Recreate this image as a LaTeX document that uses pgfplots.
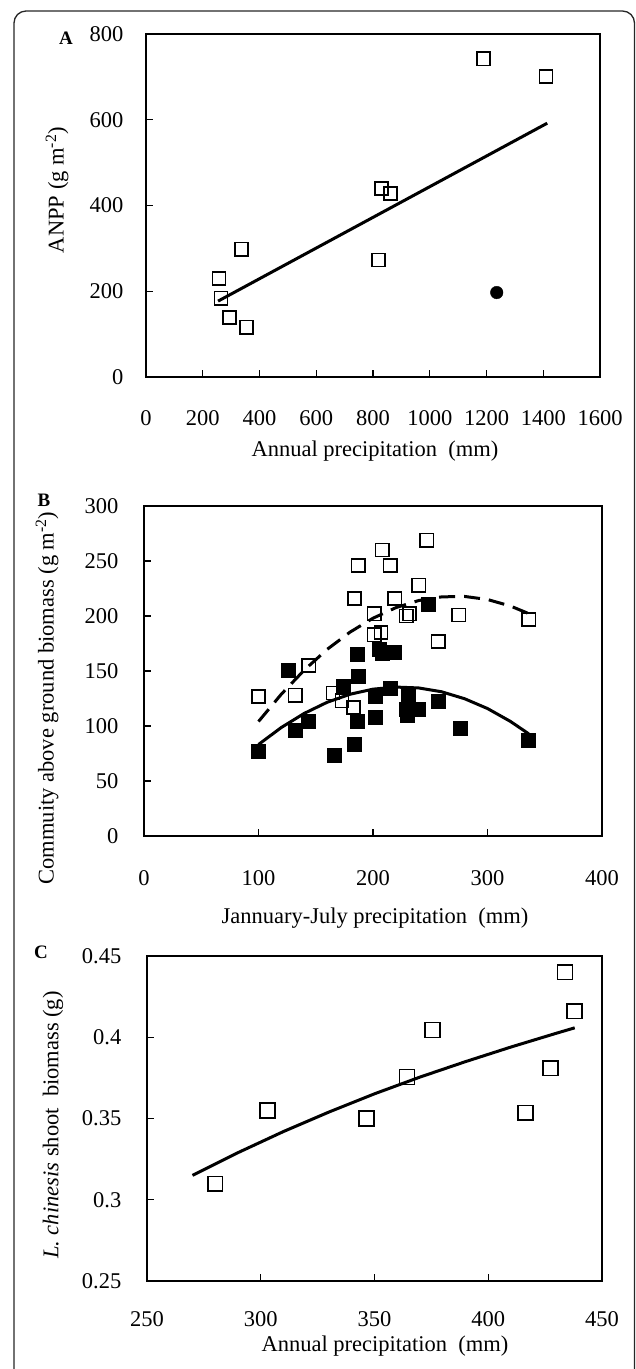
\documentclass[border=0pt]{standalone}
\usepackage{fontspec}
\setmainfont{Liberation Serif}
\usepackage{pgfplots}
\pgfplotsset{compat=1.18}
\newcommand{\tfont}{\fontsize{22.5}{26}\selectfont}
\begin{document}
\tfont
\begin{tikzpicture}[x=1pt,y=1pt]
\pgfplotsset{
  myax/.style={
    scale only axis,
    anchor=south west,
    axis line style={line width=1.5pt},
    every tick/.style={line width=1.3pt, black},
    tick align=inside,
    major tick length=7pt,
    xtick pos=lower, ytick pos=left,
    /pgf/number format/assume math mode=true,
    /pgf/number format/1000 sep={},
    tick label style={font=\tfont},
  },
  openmk/.style={only marks, mark=square, mark size=6.6pt, mark options={line width=1.6pt, draw=black}},
  fillmk/.style={only marks, mark=square*, mark size=7pt, mark options={line width=0.8pt, draw=black, fill=black}},
}
\newcommand{\thickaxes}{\draw[line width=2.6pt, line cap=rect] (rel axis cs:0,1) -- (rel axis cs:0,0) -- (rel axis cs:1,0);}
% frame
\draw[line width=1.3pt, black!85, rounded corners=12pt] (14,-1400) -- (14,-11) -- (634.5,-11) -- (634.5,-1400);

% ---------- Panel A ----------
\begin{axis}[myax, at={(146pt,-377pt)}, width=454pt, height=343pt,
  xmin=0, xmax=1600, ymin=0, ymax=800,
  xtick={0,200,...,1600}, ytick={0,200,...,800},
  yticklabel style={xshift=-15pt},
  xticklabel style={yshift=-26pt}]
\addplot[openmk] coordinates {
(1190,742) (1410,701) (830,440) (861,428) (819,273)
(337,298) (257,230) (264,184) (294,139) (354,116)};
\addplot[only marks, mark=*, mark size=6.3pt, black] coordinates {(1236,197)};
\addplot[line width=3pt, no marks, black] coordinates {(254,177) (1414,592)};
\thickaxes
\end{axis}
\node[font=\fontsize{19}{22}\selectfont\bfseries] at (66,-38) {A};
\node[rotate=90] at (57,-190) {ANPP (g m\textsuperscript{-2})};
\node at (375,-451) {Annual precipitation\ \ (mm)};

% ---------- Panel B ----------
\begin{axis}[myax, at={(144pt,-836pt)}, width=458pt, height=330pt,
  xmin=0, xmax=400, ymin=0, ymax=300,
  xtick={0,100,...,400}, ytick={0,50,...,300},
  yticklabel style={xshift=-18pt},
  xticklabel style={yshift=-27pt}]
\addplot[line width=3pt, no marks, black, dash pattern=on 16pt off 9pt] coordinates {
(100,104.1) (120,129.0) (140,150.9) (160,169.7) (180,185.4) (200,198.0)
(220,207.6) (240,214.1) (260,217.4) (280,217.8) (300,215.0) (320,209.1) (336,202.2)};
\addplot[line width=3pt, no marks, black] coordinates {
(100,83.2) (120,98.7) (140,111.5) (160,121.6) (180,128.9) (200,133.5)
(220,135.4) (240,134.6) (260,131.1) (280,124.8) (300,115.9) (320,104.2) (336,92.9)};
\addplot[openmk] coordinates {
(100,127) (132,128) (144,155) (165,130) (173,123) (183,117)
(187,246) (184,216) (201,202) (201,183) (207,185) (208,260)
(215,246) (219,216) (229,200) (232,202) (240,228) (247,269)
(257,177) (275,201) (336,197)};
\addplot[fillmk] coordinates {
(100,77) (126,151) (132,96) (144,104) (166,73) (174,136)
(186,165) (187,145) (186,104) (184,83) (202,127) (202,108)
(208,166) (206,170) (219,167) (215,134) (231,128) (229,115)
(230,110) (240,115) (257,122) (248,211) (276,98) (336,87)};
\thickaxes
\end{axis}
\node[font=\fontsize{19}{22}\selectfont\bfseries] at (44,-500) {B};
\node[rotate=90] at (47,-698) {Commuity above ground biomass (g m\textsuperscript{-2})};
\node at (375,-918) {Jannuary-July precipitation\ \ (mm)};

% ---------- Panel C ----------
\begin{axis}[myax, at={(147pt,-1281pt)}, width=455pt, height=325pt,
  xmin=250, xmax=450, ymin=0.25, ymax=0.45,
  xtick={250,300,...,450}, ytick={0.25,0.3,0.35,0.4,0.45},
  yticklabel style={xshift=-18pt},
  xticklabel style={yshift=-23pt},
  /pgf/number format/fixed]
\addplot[line width=3pt, no marks, black] coordinates {
(270,0.315) (290,0.3290) (310,0.3420) (330,0.3540) (350,0.3652)
(370,0.3755) (390,0.3850) (410,0.3940) (430,0.4025) (438,0.4058)};
\addplot[openmk, mark size=7.4pt] coordinates {
(280.0,0.3098) (302.9,0.3550) (346.5,0.3500) (364.3,0.3755) (375.5,0.4045)
(416.3,0.3535) (427.3,0.3810) (433.7,0.4400) (437.9,0.4160)};
\thickaxes
\end{axis}
\node[font=\fontsize{19}{22}\selectfont\bfseries] at (41,-952) {C};
\node[rotate=90] at (53,-1125) {\textit{L. chinesis} shoot\ \ biomass (g)};
\node at (385,-1346) {Annual precipitation\ \ (mm)};

\pgfresetboundingbox
\path[use as bounding box] (0,0) rectangle (636,-1369);
\end{tikzpicture}
\end{document}
